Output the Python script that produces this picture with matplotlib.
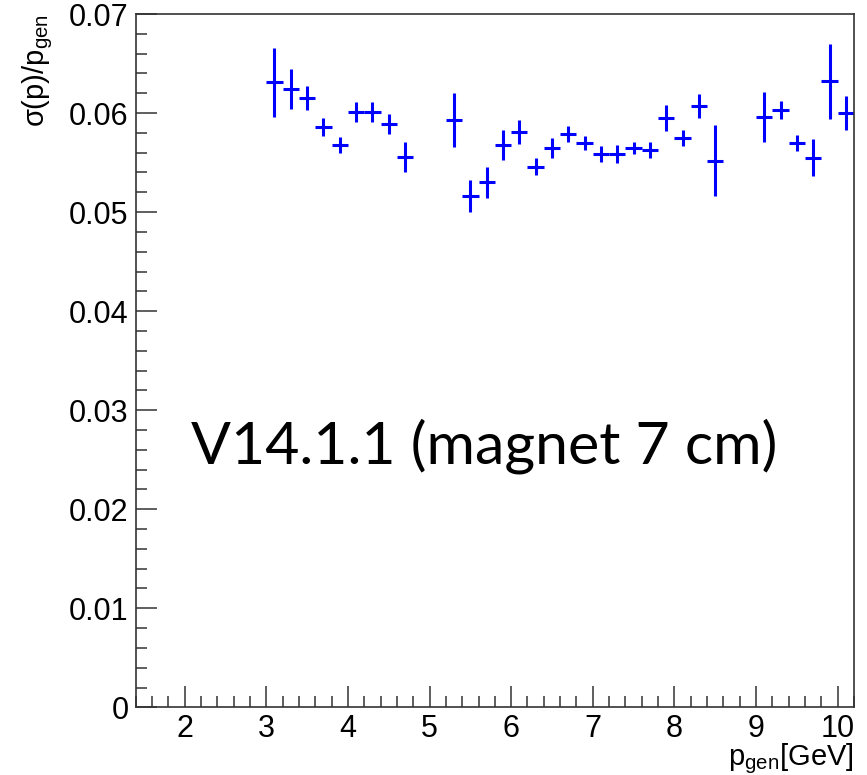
import matplotlib
matplotlib.use('Agg')
import matplotlib.pyplot as plt
from matplotlib.ticker import MultipleLocator, FuncFormatter
import numpy as np

# momentum bin centres [GeV], bin width 0.2
p_gen = [3.1, 3.3, 3.5, 3.7, 3.9, 4.1, 4.3, 4.5, 4.7,
         5.3, 5.5, 5.7, 5.9, 6.1, 6.3, 6.5, 6.7, 6.9, 7.1, 7.3, 7.5, 7.7,
         7.9, 8.1, 8.3, 8.5,
         9.1, 9.3, 9.5, 9.7, 9.9, 10.1]
bin_width = 0.2

# relative momentum resolution sigma(p)/p_gen and its uncertainty
resolution = [0.0631, 0.0624, 0.0615, 0.0586, 0.0568, 0.0601, 0.0601, 0.0589, 0.0556,
              0.0593, 0.0516, 0.0530, 0.0568, 0.0581, 0.0546, 0.0565, 0.0579, 0.0570,
              0.0559, 0.0559, 0.0565, 0.0563, 0.0595, 0.0575, 0.0607, 0.0552,
              0.0596, 0.0603, 0.0570, 0.0555, 0.0632, 0.0600]
resolution_err = [0.0035, 0.0020, 0.0012, 0.0009, 0.0008, 0.0010, 0.0010, 0.0010, 0.0015,
                  0.0027, 0.0016, 0.0016, 0.0015, 0.0012, 0.0009, 0.0010, 0.0008, 0.0007,
                  0.0008, 0.0009, 0.0006, 0.0008, 0.0013, 0.0008, 0.0012, 0.0036,
                  0.0025, 0.0009, 0.0008, 0.0019, 0.0038, 0.0017]

plt.rcParams['font.family'] = ['Liberation Sans', 'DejaVu Sans']
plt.rcParams['mathtext.fontset'] = 'custom'
plt.rcParams['mathtext.rm'] = 'Liberation Sans'

fig = plt.figure(figsize=(8.67, 7.75), dpi=100)
ax = fig.add_axes([0.1565, 0.0873, 0.8285, 0.8946])

ax.errorbar(p_gen, resolution, xerr=bin_width / 2, yerr=resolution_err,
            fmt='none', ecolor='#0000ff', elinewidth=2.2, capsize=0)

ax.set_xlim(1.4, 10.2)
ax.set_ylim(0, 0.07)

# ROOT-like axes: ticks inside, left and bottom only
ax.xaxis.set_major_locator(MultipleLocator(1))
ax.xaxis.set_minor_locator(MultipleLocator(0.2))
ax.yaxis.set_major_locator(MultipleLocator(0.01))
ax.yaxis.set_minor_locator(MultipleLocator(0.002))
ax.yaxis.set_major_formatter(FuncFormatter(lambda v, _: '0' if abs(v) < 1e-9 else f'{v:.2f}'))
ax.xaxis.set_major_formatter(FuncFormatter(lambda v, _: f'{v:.0f}'))
ax.tick_params(which='both', direction='in', top=False, right=False,
               color='#333333', width=1.1, labelsize=22)
ax.tick_params(which='major', length=15)
ax.tick_params(which='minor', length=8)
ax.tick_params(axis='y', pad=5)
ax.tick_params(axis='x', pad=5)
for side in ax.spines.values():
    side.set_color('#333333')
    side.set_linewidth(1.2)

ax.set_ylabel(r'$\mathregular{\sigma(p)/p_{gen}}$', loc='top', fontsize=21, labelpad=10)
ax.set_xlabel(r'$\mathregular{p_{gen}[GeV]}$', loc='right', fontsize=21, labelpad=-2)

ax.text(0.4856, 0.3524, 'V14.1.1 (magnet 7 cm)', transform=ax.transAxes,
        ha='center', va='baseline', fontsize=42.5, family=['Lato', 'DejaVu Sans'])

fig.savefig('out.png', dpi=100)
